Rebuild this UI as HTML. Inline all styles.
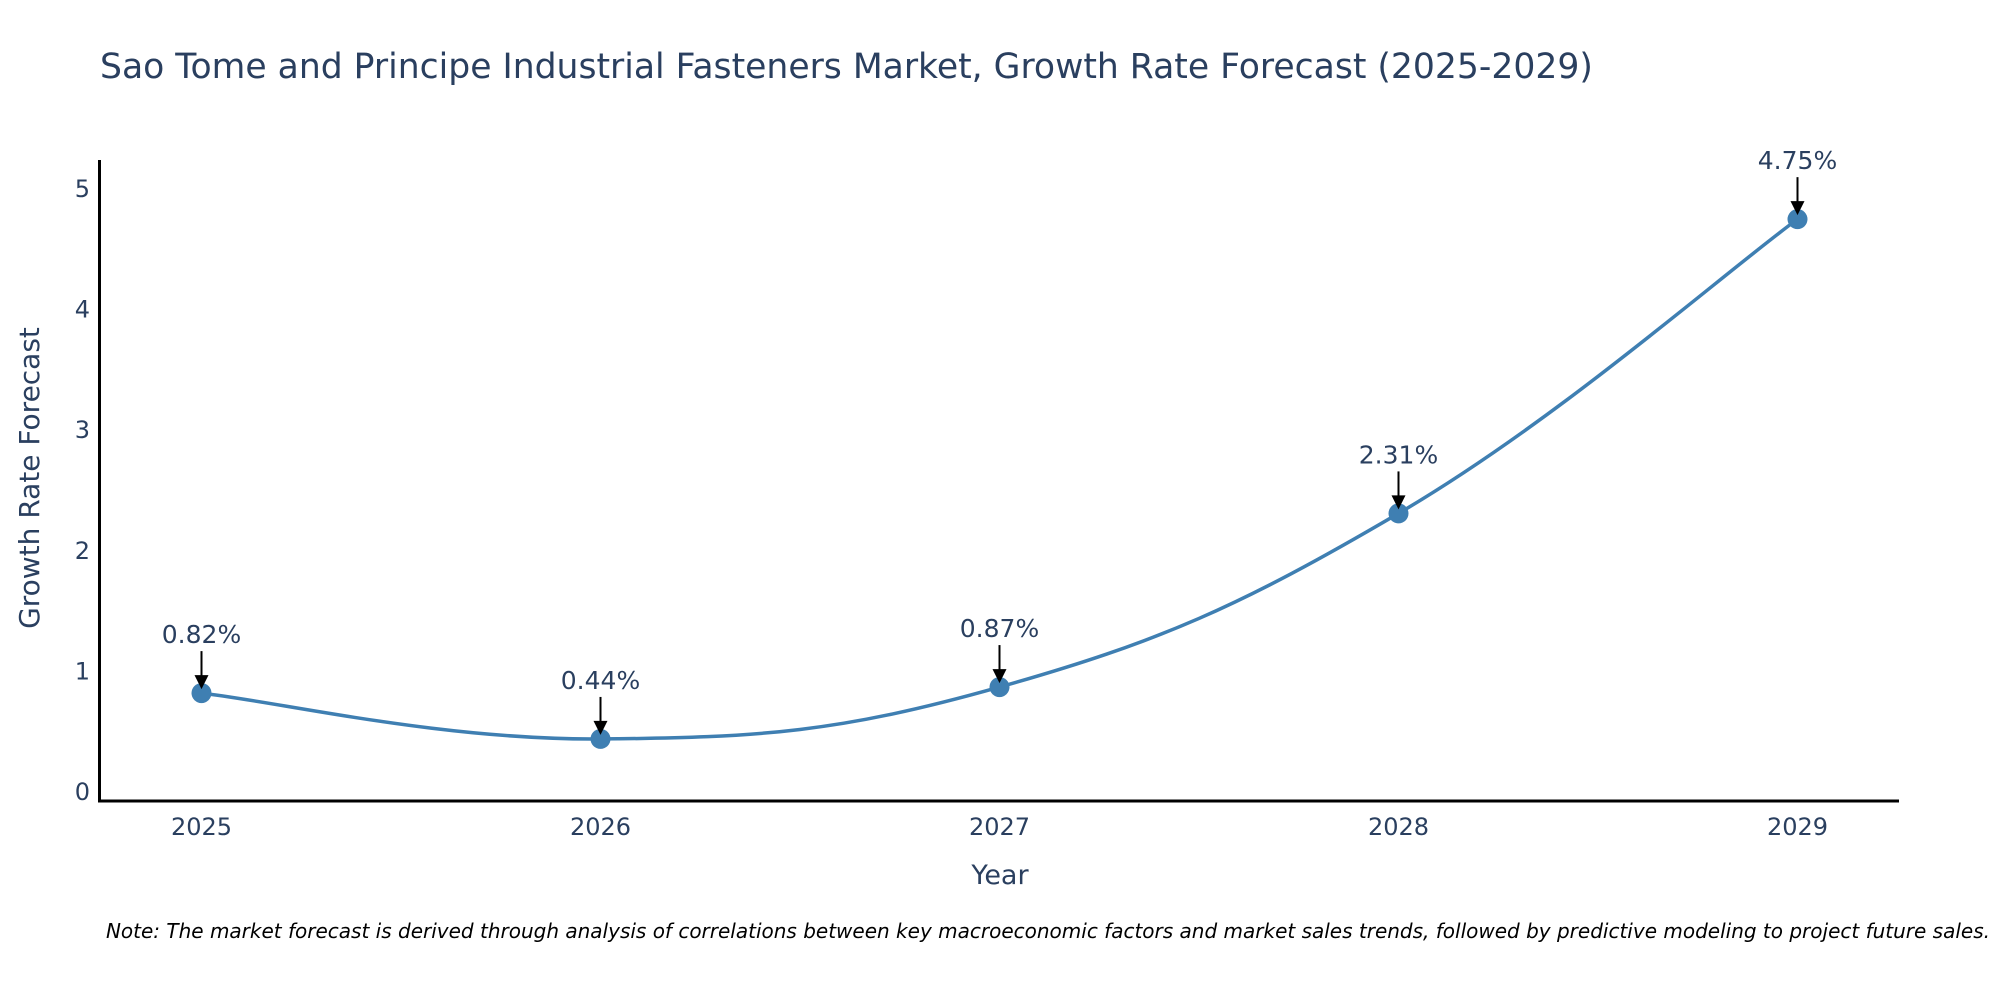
<!DOCTYPE html>
<html><head><meta charset="utf-8"><style>
body{margin:0;background:#fff;font-family:"DejaVu Sans","Liberation Sans",sans-serif}
svg{display:block}
svg text{font-family:"DejaVu Sans","Liberation Sans",sans-serif}
</style></head><body>
<svg id="chart" width="2000" height="1000">
<text x="100" y="78" font-size="34.6" fill="#2a3f5f">Sao Tome and Principe Industrial Fasteners Market, Growth Rate Forecast (2025-2029)</text>
<g id="yticks"></g><g id="xticks"></g>
<line x1="99.5" y1="160" x2="99.5" y2="802" stroke="#000" stroke-width="3"/>
<line x1="98" y1="801" x2="1899" y2="801" stroke="#000" stroke-width="3"/>
<g id="series"></g><g id="annos"></g>
<text x="1000" y="884" font-size="27" fill="#2a3f5f" text-anchor="middle">Year</text>
<text transform="translate(39,478) rotate(-90)" font-size="28" fill="#2a3f5f" text-anchor="middle">Growth Rate Forecast</text>
<text x="1990" y="938" font-size="20" font-style="italic" fill="#000" text-anchor="end">Note: The market forecast is derived through analysis of correlations between key macroeconomic factors and market sales trends, followed by predictive modeling to project future sales.</text>
</svg>
<script>
const years=["2025","2026","2027","2028","2029"];
const growth=[0.82,0.44,0.87,2.31,4.75];
const yTicks=[0,1,2,3,4,5];
const NS="http://www.w3.org/2000/svg";
function xs(i){return 201.5+i*399;}
function ys(v){return 792-v*120.6;}
function mk(t,a,p){const e=document.createElementNS(NS,t);for(const k in a)e.setAttribute(k,a[k]);p.appendChild(e);return e;}
const yt=document.getElementById('yticks');
yTicks.forEach(v=>{const t=mk('text',{x:90,y:ys(v)+8,'font-size':24,fill:'#2a3f5f','text-anchor':'end'},yt);t.textContent=v;

});
const xt=document.getElementById('xticks');
years.forEach((y,i)=>{const t=mk('text',{x:xs(i),y:835,'font-size':24,fill:'#2a3f5f','text-anchor':'middle'},xt);t.textContent=y;

});
const pts=growth.map((v,i)=>[xs(i),ys(v)]);
let d='M'+pts[0][0]+','+pts[0][1];
const s=0.2;
for(let i=0;i<pts.length-1;i++){const p0=pts[Math.max(i-1,0)],p1=pts[i],p2=pts[i+1],p3=pts[Math.min(i+2,pts.length-1)];
const c1=[p1[0]+(p2[0]-p0[0])*s,p1[1]+(p2[1]-p0[1])*s],c2=[p2[0]-(p3[0]-p1[0])*s,p2[1]-(p3[1]-p1[1])*s];
d+=' C'+c1+' '+c2+' '+p2;}
const se=document.getElementById('series');
const path=mk('path',{d:d,fill:'none',stroke:'#3f7fb2','stroke-width':3.5},se);


const an=document.getElementById('annos');
pts.forEach((p,i)=>{const c=mk('circle',{cx:p[0],cy:p[1],r:10,fill:'#3f7fb2'},se);


const l=mk('line',{x1:p[0],y1:p[1]-42,x2:p[0],y2:p[1]-16,stroke:'#000','stroke-width':2},an);


const h=mk('polygon',{points:(p[0]-7)+','+(p[1]-18)+' '+(p[0]+7)+','+(p[1]-18)+' '+p[0]+','+(p[1]-4)},an);


const t=mk('text',{x:p[0],y:p[1]-50,'font-size':25,fill:'#2a3f5f','text-anchor':'middle'},an);t.textContent=growth[i].toFixed(2)+'%';

});
</script>
</body></html>
